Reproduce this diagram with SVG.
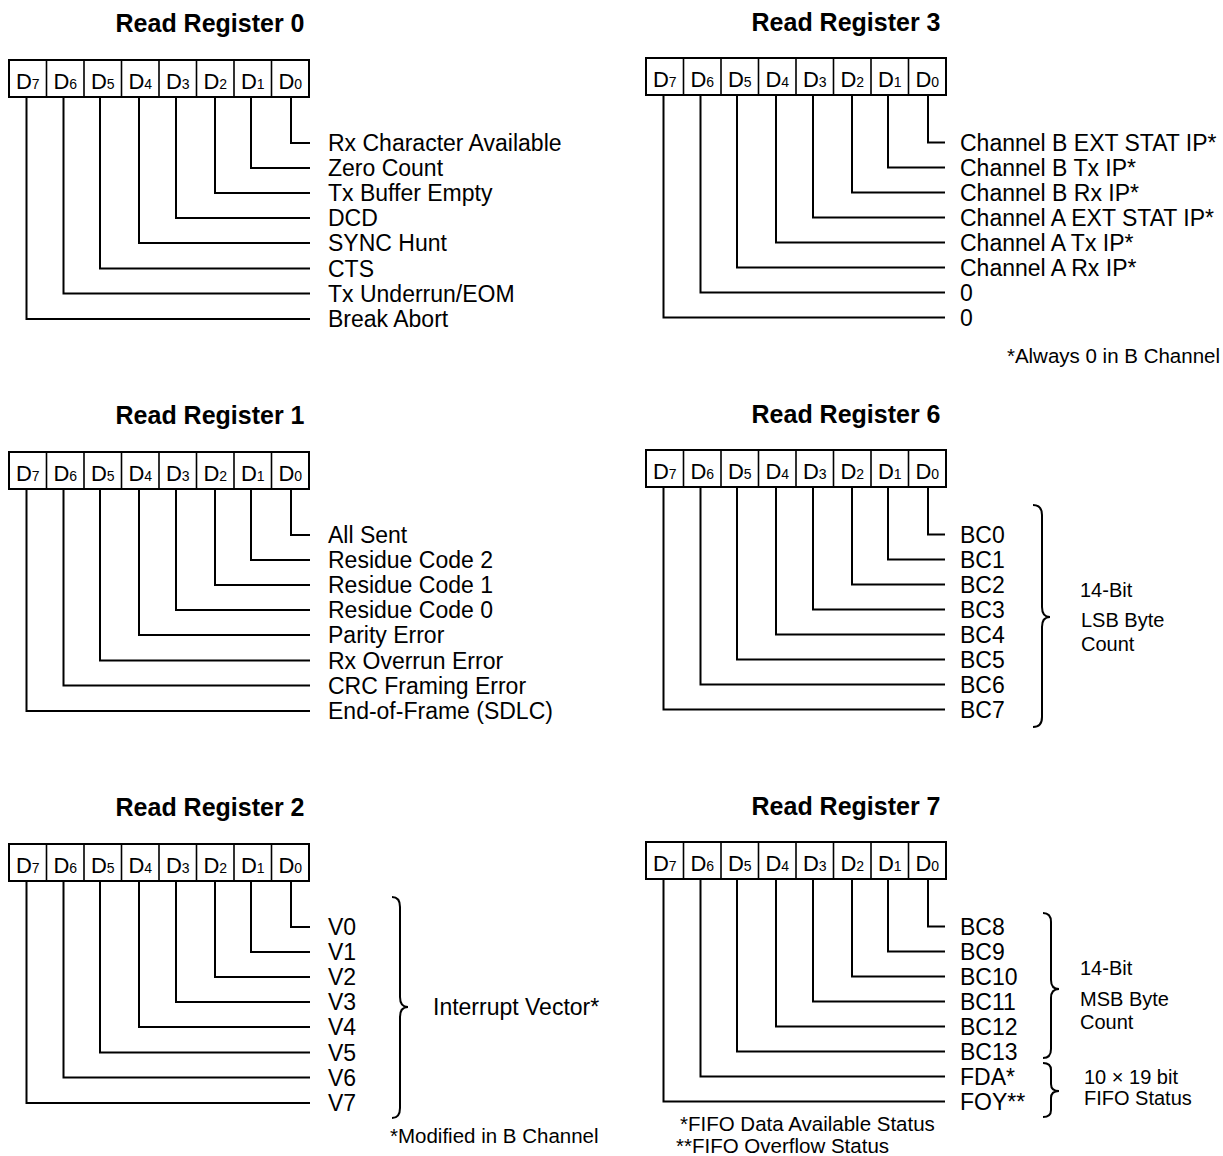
<svg xmlns="http://www.w3.org/2000/svg" xmlns:xlink="http://www.w3.org/1999/xlink" width="1223" height="1156" viewBox="0 0 1223 1156">
<style>
text{font-family:"Liberation Sans",Arial,sans-serif;fill:#000}
.t{font-size:25px;font-weight:bold;text-anchor:middle}
.l{font-size:23px}
.s{font-size:20.5px}
.b{font-size:20px}
.d{font-size:22px;text-anchor:middle}
.sub{font-size:14px}
.box{fill:#fff;stroke:#000;stroke-width:2}
.cell{stroke:#000;stroke-width:1.6}
.c path{fill:none;stroke:#000;stroke-width:2}
.br{fill:none;stroke:#000;stroke-width:2}
</style>
<defs>
<g id="regbox">
<rect class="box" x="0" y="0" width="300" height="37"/>
<path class="cell" d="M37.5,0V37M75,0V37M112.5,0V37M150,0V37M187.5,0V37M225,0V37M262.5,0V37"/>
<text class="d" x="18.75" y="29">D<tspan class="sub">7</tspan></text>
<text class="d" x="56.25" y="29">D<tspan class="sub">6</tspan></text>
<text class="d" x="93.75" y="29">D<tspan class="sub">5</tspan></text>
<text class="d" x="131.25" y="29">D<tspan class="sub">4</tspan></text>
<text class="d" x="168.75" y="29">D<tspan class="sub">3</tspan></text>
<text class="d" x="206.25" y="29">D<tspan class="sub">2</tspan></text>
<text class="d" x="243.75" y="29">D<tspan class="sub">1</tspan></text>
<text class="d" x="281.25" y="29">D<tspan class="sub">0</tspan></text>
</g>
</defs>
<rect width="1223" height="1156" fill="#fff"/>

<g id="connectors" class="c">
<!-- RR0 -->
<path d="M291,97V143H310"/><path d="M251,97V168H310"/><path d="M215,97V193H310"/><path d="M176,97V218H310"/>
<path d="M139,97V243H310"/><path d="M100,97V268.5H310"/><path d="M63.5,97V293.5H310"/><path d="M26.5,97V319H310"/>
<!-- RR1 -->
<path d="M291,489V535H310"/><path d="M251,489V560H310"/><path d="M215,489V585H310"/><path d="M176,489V610H310"/>
<path d="M139,489V635H310"/><path d="M100,489V660.5H310"/><path d="M63.5,489V685.5H310"/><path d="M26.5,489V711H310"/>
<!-- RR2 -->
<path d="M291,881V927H310"/><path d="M251,881V952H310"/><path d="M215,881V977H310"/><path d="M176,881V1002H310"/>
<path d="M139,881V1027H310"/><path d="M100,881V1052.5H310"/><path d="M63.5,881V1077.5H310"/><path d="M26.5,881V1103H310"/>
<!-- RR3 -->
<path d="M928,95V142.5H945"/><path d="M888,95V167.5H945"/><path d="M852,95V192.5H945"/><path d="M813,95V217.5H945"/>
<path d="M776,95V242.5H945"/><path d="M737,95V267.5H945"/><path d="M700.5,95V292.5H945"/><path d="M663.5,95V317.5H945"/>
<!-- RR6 -->
<path d="M928,487V534.5H945"/><path d="M888,487V559.5H945"/><path d="M852,487V584.5H945"/><path d="M813,487V609.5H945"/>
<path d="M776,487V634.5H945"/><path d="M737,487V659.5H945"/><path d="M700.5,487V684.5H945"/><path d="M663.5,487V709.5H945"/>
<!-- RR7 -->
<path d="M928,879V926.5H945"/><path d="M888,879V951.5H945"/><path d="M852,879V976.5H945"/><path d="M813,879V1001.5H945"/>
<path d="M776,879V1026.5H945"/><path d="M737,879V1051.5H945"/><path d="M700.5,879V1076.5H945"/><path d="M663.5,879V1101.5H945"/>
</g>

<g id="rr0">
<text class="t" x="210" y="32">Read Register 0</text>
<use xlink:href="#regbox" href="#regbox" x="9" y="60"/>
<text class="l" x="328" y="151">Rx Character Available</text>
<text class="l" x="328" y="176">Zero Count</text>
<text class="l" x="328" y="201">Tx Buffer Empty</text>
<text class="l" x="328" y="226">DCD</text>
<text class="l" x="328" y="251">SYNC Hunt</text>
<text class="l" x="328" y="276.5">CTS</text>
<text class="l" x="328" y="301.5">Tx Underrun/EOM</text>
<text class="l" x="328" y="327">Break Abort</text>
</g>

<g id="rr1">
<text class="t" x="210" y="424">Read Register 1</text>
<use xlink:href="#regbox" href="#regbox" x="9" y="452"/>
<text class="l" x="328" y="543">All Sent</text>
<text class="l" x="328" y="568">Residue Code 2</text>
<text class="l" x="328" y="593">Residue Code 1</text>
<text class="l" x="328" y="618">Residue Code 0</text>
<text class="l" x="328" y="643">Parity Error</text>
<text class="l" x="328" y="668.5">Rx Overrun Error</text>
<text class="l" x="328" y="693.5">CRC Framing Error</text>
<text class="l" x="328" y="719">End-of-Frame (SDLC)</text>
</g>

<g id="rr2">
<text class="t" x="210" y="816">Read Register 2</text>
<use xlink:href="#regbox" href="#regbox" x="9" y="844"/>
<text class="l" x="328" y="935">V0</text>
<text class="l" x="328" y="960">V1</text>
<text class="l" x="328" y="985">V2</text>
<text class="l" x="328" y="1010">V3</text>
<text class="l" x="328" y="1035">V4</text>
<text class="l" x="328" y="1060.5">V5</text>
<text class="l" x="328" y="1085.5">V6</text>
<text class="l" x="328" y="1111">V7</text>
<path class="br" d="M392,897Q400,897 400,907L400,997Q400,1007 408,1007Q400,1007 400,1017L400,1108Q400,1118 392,1118"/>
<text class="l" x="433" y="1015">Interrupt Vector*</text>
<text class="s" x="390" y="1143">*Modified in B Channel</text>
</g>

<g id="rr3">
<text class="t" x="846" y="31">Read Register 3</text>
<use xlink:href="#regbox" href="#regbox" x="646" y="58"/>
<text class="l" x="960" y="150.5">Channel B EXT STAT IP*</text>
<text class="l" x="960" y="175.5">Channel B Tx IP*</text>
<text class="l" x="960" y="200.5">Channel B Rx IP*</text>
<text class="l" x="960" y="225.5">Channel A EXT STAT IP*</text>
<text class="l" x="960" y="250.5">Channel A Tx IP*</text>
<text class="l" x="960" y="275.5">Channel A Rx IP*</text>
<text class="l" x="960" y="300.5">0</text>
<text class="l" x="960" y="325.5">0</text>
<text class="s" x="1220" y="363" text-anchor="end">*Always 0 in B Channel</text>
</g>

<g id="rr6">
<text class="t" x="846" y="423">Read Register 6</text>
<use xlink:href="#regbox" href="#regbox" x="646" y="450"/>
<text class="l" x="960" y="542.5">BC0</text>
<text class="l" x="960" y="567.5">BC1</text>
<text class="l" x="960" y="592.5">BC2</text>
<text class="l" x="960" y="617.5">BC3</text>
<text class="l" x="960" y="642.5">BC4</text>
<text class="l" x="960" y="667.5">BC5</text>
<text class="l" x="960" y="692.5">BC6</text>
<text class="l" x="960" y="717.5">BC7</text>
<path class="br" d="M1033,505Q1042,505 1042,515L1042,607Q1042,617 1050,617Q1042,617 1042,627L1042,717Q1042,727 1033,727"/>
<text class="b" x="1080" y="597">14-Bit</text>
<text class="b" x="1081" y="627">LSB Byte</text>
<text class="b" x="1081" y="651">Count</text>
</g>

<g id="rr7">
<text class="t" x="846" y="815">Read Register 7</text>
<use xlink:href="#regbox" href="#regbox" x="646" y="842"/>
<text class="l" x="960" y="934.5">BC8</text>
<text class="l" x="960" y="959.5">BC9</text>
<text class="l" x="960" y="984.5">BC10</text>
<text class="l" x="960" y="1009.5">BC11</text>
<text class="l" x="960" y="1034.5">BC12</text>
<text class="l" x="960" y="1059.5">BC13</text>
<text class="l" x="960" y="1084.5">FDA*</text>
<text class="l" x="960" y="1109.5">FOY**</text>
<path class="br" d="M1043,913Q1051,913 1051,922L1051,980Q1051,989 1059,989Q1051,989 1051,998L1051,1049Q1051,1058 1043,1058"/>
<path class="br" d="M1043,1063Q1051,1063 1051,1070L1051,1084Q1051,1091 1059,1091Q1051,1091 1051,1098L1051,1110Q1051,1117 1043,1117"/>
<text class="b" x="1080" y="975">14-Bit</text>
<text class="b" x="1080" y="1006">MSB Byte</text>
<text class="b" x="1080" y="1029">Count</text>
<text class="b" x="1084" y="1084">10 × 19 bit</text>
<text class="b" x="1084" y="1105">FIFO Status</text>
<text class="s" x="680" y="1131">*FIFO Data Available Status</text>
<text class="s" x="676" y="1153">**FIFO Overflow Status</text>
</g>
</svg>
